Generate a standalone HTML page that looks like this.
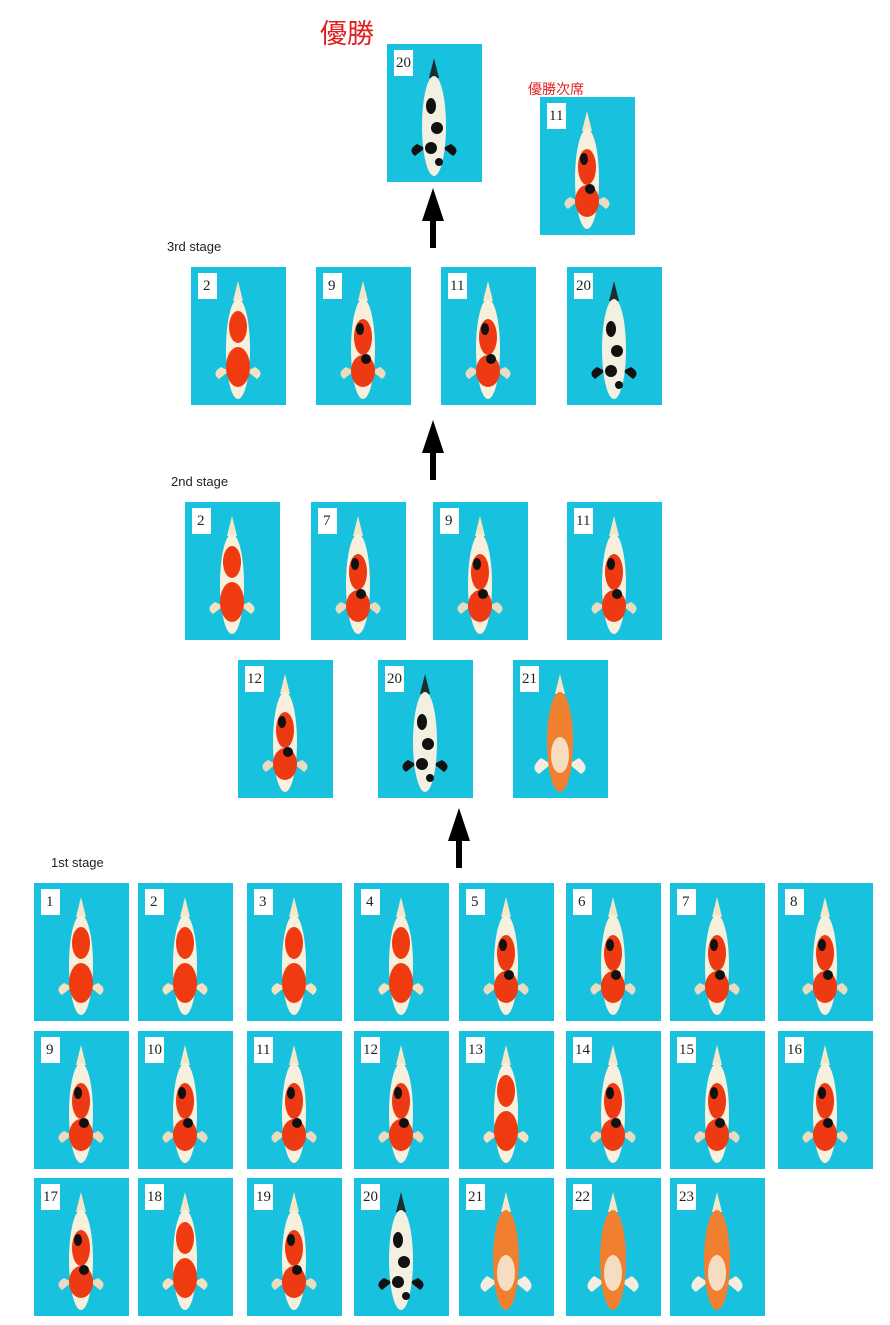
<!DOCTYPE html>
<html><head><meta charset="utf-8"><style>
body{margin:0;background:#fff;width:890px;height:1325px;overflow:hidden}
svg{display:block}
.n{font-family:"Liberation Serif",serif;font-size:15px;fill:#222}
.s{font-family:"Liberation Sans",sans-serif;font-size:13px;fill:#222}
</style></head><body>
<svg width="890" height="1325" viewBox="0 0 890 1325" xmlns="http://www.w3.org/2000/svg">
<defs>
<g id="bg"><rect width="95" height="138" fill="#18c2de"/><rect x="7" y="6" width="19" height="26" fill="#fff"/></g>
<g id="fR">
<path d="M47 14 L42 34 L52 34 Z" fill="#f3e7c8"/>
<path d="M30 100 Q20 106 28 112 L38 104 Z M64 100 Q74 106 66 112 L56 104 Z" fill="#f3e3c0"/>
<ellipse cx="47" cy="82" rx="12" ry="50" fill="#f7f0dc"/>
<ellipse cx="47" cy="60" rx="9" ry="16" fill="#f03a10"/>
<ellipse cx="47" cy="100" rx="12" ry="20" fill="#f03a10"/>
</g>
<g id="fS">
<path d="M47 14 L42 34 L52 34 Z" fill="#f3e7c8"/>
<path d="M30 100 Q20 106 28 112 L38 104 Z M64 100 Q74 106 66 112 L56 104 Z" fill="#e8dcc0"/>
<ellipse cx="47" cy="82" rx="12" ry="50" fill="#f7f0dc"/>
<ellipse cx="47" cy="70" rx="9" ry="18" fill="#ee3a12"/>
<ellipse cx="47" cy="104" rx="12" ry="16" fill="#ee3a12"/>
<ellipse cx="44" cy="62" rx="4" ry="6" fill="#111"/>
<ellipse cx="50" cy="92" rx="5" ry="5" fill="#111"/>
</g>
<g id="fB">
<path d="M47 14 L42 34 L52 34 Z" fill="#1a3030"/>
<path d="M30 100 Q20 106 28 112 L38 104 Z M64 100 Q74 106 66 112 L56 104 Z" fill="#111"/>
<ellipse cx="47" cy="82" rx="12" ry="50" fill="#f2f0e0"/>
<ellipse cx="44" cy="62" rx="5" ry="8" fill="#111"/>
<ellipse cx="50" cy="84" rx="6" ry="6" fill="#111"/>
<ellipse cx="44" cy="104" rx="6" ry="6" fill="#111"/>
<ellipse cx="52" cy="118" rx="4" ry="4" fill="#111"/>
</g>
<g id="fO">
<path d="M47 14 L42 34 L52 34 Z" fill="#f3e7c8"/>
<path d="M28 98 Q16 108 26 114 L38 104 Z M66 98 Q78 108 68 114 L56 104 Z" fill="#f3eee0"/>
<ellipse cx="47" cy="82" rx="13" ry="50" fill="#f08030"/>
<ellipse cx="47" cy="95" rx="9" ry="18" fill="#f6dcc0"/>
</g>
<g id="arr"><path d="M0 0 L-11 33 L-3 33 L-3 60 L3 60 L3 33 L11 33 Z" fill="#000"/></g>
</defs>

<text x="320" y="43" font-family="'Liberation Sans','Noto Sans CJK JP',sans-serif" font-size="27" fill="#e02020">優勝</text>
<text x="528" y="94" font-family="'Liberation Sans','Noto Sans CJK JP',sans-serif" font-size="14" fill="#e02020">優勝次席</text>

<g transform="translate(387,44)"><use href="#bg"/><use href="#fB"/><text class="n" x="9" y="23">20</text></g>
<g transform="translate(540,97)"><use href="#bg"/><use href="#fS"/><text class="n" x="9" y="23">11</text></g>
<use href="#arr" transform="translate(433,188)"/>

<text class="s" x="167" y="251">3rd stage</text>
<g transform="translate(191,267)"><use href="#bg"/><use href="#fR"/><text class="n" x="12" y="23">2</text></g>
<g transform="translate(316,267)"><use href="#bg"/><use href="#fS"/><text class="n" x="12" y="23">9</text></g>
<g transform="translate(441,267)"><use href="#bg"/><use href="#fS"/><text class="n" x="9" y="23">11</text></g>
<g transform="translate(567,267)"><use href="#bg"/><use href="#fB"/><text class="n" x="9" y="23">20</text></g>
<use href="#arr" transform="translate(433,420)"/>

<text class="s" x="171" y="486">2nd stage</text>
<g transform="translate(185,502)"><use href="#bg"/><use href="#fR"/><text class="n" x="12" y="23">2</text></g>
<g transform="translate(311,502)"><use href="#bg"/><use href="#fS"/><text class="n" x="12" y="23">7</text></g>
<g transform="translate(433,502)"><use href="#bg"/><use href="#fS"/><text class="n" x="12" y="23">9</text></g>
<g transform="translate(567,502)"><use href="#bg"/><use href="#fS"/><text class="n" x="9" y="23">11</text></g>
<g transform="translate(238,660)"><use href="#bg"/><use href="#fS"/><text class="n" x="9" y="23">12</text></g>
<g transform="translate(378,660)"><use href="#bg"/><use href="#fB"/><text class="n" x="9" y="23">20</text></g>
<g transform="translate(513,660)"><use href="#bg"/><use href="#fO"/><text class="n" x="9" y="23">21</text></g>
<use href="#arr" transform="translate(459,808)"/>

<text class="s" x="51" y="867">1st stage</text>
<g transform="translate(34,883)"><use href="#bg"/><use href="#fR"/><text class="n" x="12" y="23">1</text></g>
<g transform="translate(138,883)"><use href="#bg"/><use href="#fR"/><text class="n" x="12" y="23">2</text></g>
<g transform="translate(247,883)"><use href="#bg"/><use href="#fR"/><text class="n" x="12" y="23">3</text></g>
<g transform="translate(354,883)"><use href="#bg"/><use href="#fR"/><text class="n" x="12" y="23">4</text></g>
<g transform="translate(459,883)"><use href="#bg"/><use href="#fS"/><text class="n" x="12" y="23">5</text></g>
<g transform="translate(566,883)"><use href="#bg"/><use href="#fS"/><text class="n" x="12" y="23">6</text></g>
<g transform="translate(670,883)"><use href="#bg"/><use href="#fS"/><text class="n" x="12" y="23">7</text></g>
<g transform="translate(778,883)"><use href="#bg"/><use href="#fS"/><text class="n" x="12" y="23">8</text></g>

<g transform="translate(34,1031)"><use href="#bg"/><use href="#fS"/><text class="n" x="12" y="23">9</text></g>
<g transform="translate(138,1031)"><use href="#bg"/><use href="#fS"/><text class="n" x="9" y="23">10</text></g>
<g transform="translate(247,1031)"><use href="#bg"/><use href="#fS"/><text class="n" x="9" y="23">11</text></g>
<g transform="translate(354,1031)"><use href="#bg"/><use href="#fS"/><text class="n" x="9" y="23">12</text></g>
<g transform="translate(459,1031)"><use href="#bg"/><use href="#fR"/><text class="n" x="9" y="23">13</text></g>
<g transform="translate(566,1031)"><use href="#bg"/><use href="#fS"/><text class="n" x="9" y="23">14</text></g>
<g transform="translate(670,1031)"><use href="#bg"/><use href="#fS"/><text class="n" x="9" y="23">15</text></g>
<g transform="translate(778,1031)"><use href="#bg"/><use href="#fS"/><text class="n" x="9" y="23">16</text></g>

<g transform="translate(34,1178)"><use href="#bg"/><use href="#fS"/><text class="n" x="9" y="23">17</text></g>
<g transform="translate(138,1178)"><use href="#bg"/><use href="#fR"/><text class="n" x="9" y="23">18</text></g>
<g transform="translate(247,1178)"><use href="#bg"/><use href="#fS"/><text class="n" x="9" y="23">19</text></g>
<g transform="translate(354,1178)"><use href="#bg"/><use href="#fB"/><text class="n" x="9" y="23">20</text></g>
<g transform="translate(459,1178)"><use href="#bg"/><use href="#fO"/><text class="n" x="9" y="23">21</text></g>
<g transform="translate(566,1178)"><use href="#bg"/><use href="#fO"/><text class="n" x="9" y="23">22</text></g>
<g transform="translate(670,1178)"><use href="#bg"/><use href="#fO"/><text class="n" x="9" y="23">23</text></g>
</svg>
</body></html>
